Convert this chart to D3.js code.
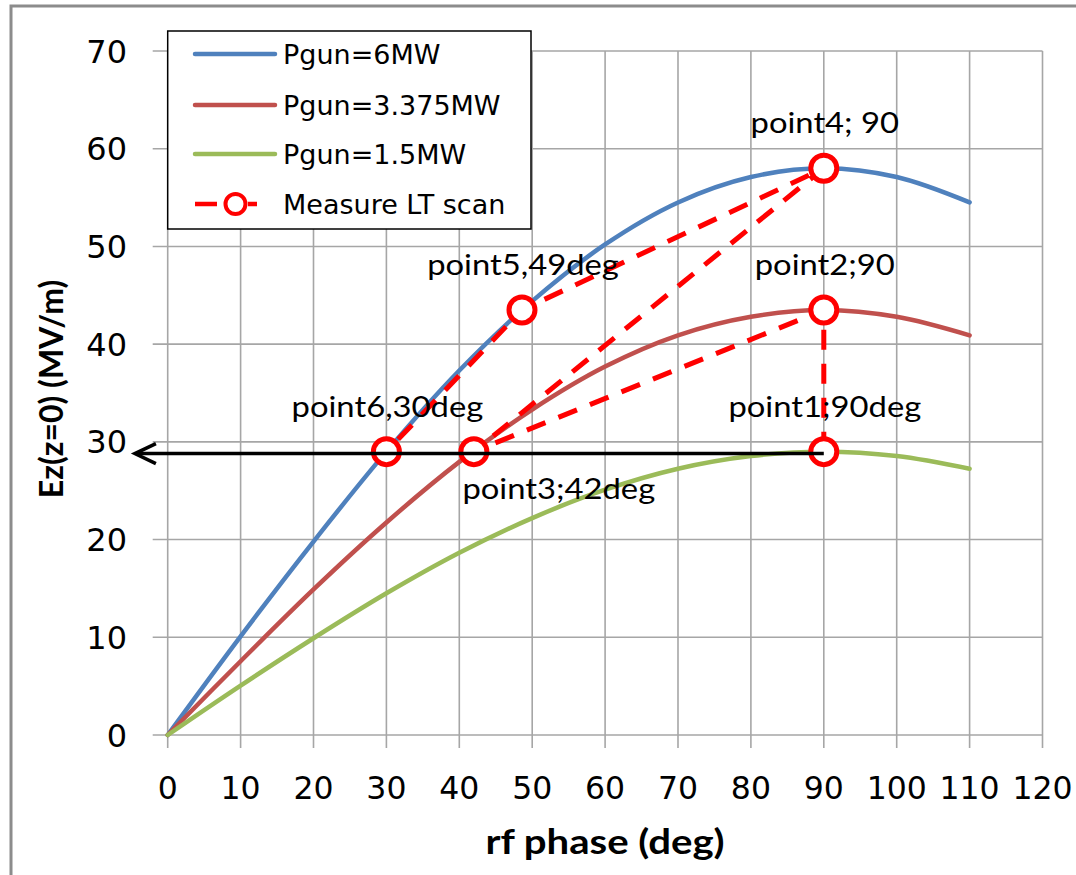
<!DOCTYPE html>
<html><head><meta charset="utf-8">
<script src="https://cdn.jsdelivr.net/npm/d3@7"></script>
<style>body{margin:0;background:#fff}</style>
</head><body><svg id="c" width="1076" height="875"></svg>
<script>
// ---- data ----
const phase   = [0, 10, 20, 30, 40, 50, 60, 70, 80, 90, 100, 110];
const ez6MW   = [0, 10.1, 19.8, 29.0, 37.3, 44.4, 50.2, 54.5, 57.1, 58.0, 57.1, 54.5];
const ez3MW   = [0, 7.55, 14.9, 21.75, 27.95, 33.3, 37.7, 40.9, 42.8, 43.5, 42.8, 40.9];
const ez1MW   = [0, 5.05, 9.9, 14.5, 18.65, 22.2, 25.1, 27.25, 28.55, 29.0, 28.55, 27.25];
const seriesNames = ["Pgun=6MW", "Pgun=3.375MW", "Pgun=1.5MW"];
const scanName = "Measure LT scan";
const scanPhase = [90, 90, 42, 90, 48.6, 30];
const scanEz    = [29, 43.5, 29, 58, 43.5, 29];
const scanLabels = ["point1;90deg", "point2;90", "point3;42deg", "point4; 90", "point5,49deg", "point6,30deg"];
const arrowPhase = [90, -4.5];
const arrowEz    = [28.8, 28.8];
const xTicks = [0, 10, 20, 30, 40, 50, 60, 70, 80, 90, 100, 110, 120];
const yTicks = [0, 10, 20, 30, 40, 50, 60, 70];
const xTitle = "rf phase (deg)";
const yTitle = "Ez(z=0) (MV/m)";

// ---- layout ----
const L = 167.7, R = 1042.5, T = 51, B = 735;
const colors = ["#4F81BD", "#C0504D", "#9BBB59"];
const red = "#FF0000";
const grid = "#A6A6A6";
const svg = d3.select("#c");
const x = d3.scaleLinear().domain([0, 120]).range([L, R]);
const y = d3.scaleLinear().domain([0, 70]).range([B, T]);

// outer frame (left + top)
svg.append("path").attr("d", `M11,875 V6 H1076`).attr("fill", "none")
  .attr("stroke", "#8C8C8C").attr("stroke-width", 3);

// gridlines
svg.append("g").selectAll("line").data(xTicks).join("line")
  .attr("x1", d => x(d)).attr("x2", d => x(d)).attr("y1", T).attr("y2", B + 13)
  .attr("stroke", grid).attr("stroke-width", 1.6);
svg.append("g").selectAll("line").data(yTicks).join("line")
  .attr("x1", L - 15).attr("x2", R).attr("y1", d => y(d)).attr("y2", d => y(d))
  .attr("stroke", grid).attr("stroke-width", 1.6);

// tick labels
svg.append("g").selectAll("text").data(xTicks).join("text")
  .attr("x", d => x(d)).attr("y", 799).attr("text-anchor", "middle")
  .attr("font-family", "DejaVu Sans").attr("font-size", 31.5).attr("fill", "#000")
  .text(d => String(d));
svg.append("g").selectAll("text").data(yTicks).join("text")
  .attr("x", 127).attr("y", d => y(d)).attr("dy", "0.36em").attr("text-anchor", "end")
  .attr("font-family", "DejaVu Sans").attr("font-size", 32).attr("fill", "#000")
  .text(d => String(d));

// axis titles
function stretchText(g, sx) {
  g.attr("transform", (g.attr("transform") || "") + ` scale(${sx},1)`);
}
const xt = svg.append("text").attr("transform", `translate(605,854)`)
  .attr("text-anchor", "middle").attr("font-family", "Lato").attr("font-weight", "bold")
  .attr("font-size", 34).text(xTitle);
stretchText(xt, 1.18);
const yt = svg.append("text").attr("transform", `translate(63,389) rotate(-90)`)
  .attr("text-anchor", "middle").attr("font-family", "Lato").attr("font-weight", "bold")
  .attr("font-size", 32).text(yTitle);
stretchText(yt, 1.0);

// legend
const lg = svg.append("g");
lg.append("rect").attr("x", L).attr("y", 31).attr("width", 531 - L).attr("height", 198)
  .attr("fill", "#fff").attr("stroke", "#000").attr("stroke-width", 1.5);
const rowY = [54, 105, 154, 204];
seriesNames.forEach((n, i) => {
  lg.append("line").attr("x1", 195).attr("x2", 275).attr("y1", rowY[i]).attr("y2", rowY[i])
    .attr("stroke", colors[i]).attr("stroke-width", 4.5).attr("stroke-linecap", "round");
  lg.append("text").attr("x", 283).attr("y", rowY[i]).attr("dy", "0.36em")
    .attr("font-family", "DejaVu Sans").attr("font-size", 27).text(n);
});
lg.append("line").attr("x1", 195).attr("x2", 257).attr("y1", rowY[3]).attr("y2", rowY[3])
  .attr("stroke", red).attr("stroke-width", 4.5).attr("stroke-dasharray", "22,31,9");
lg.append("circle").attr("cx", 235.5).attr("cy", rowY[3]).attr("r", 10)
  .attr("fill", "#fff").attr("stroke", red).attr("stroke-width", 4);
lg.append("text").attr("x", 283).attr("y", rowY[3]).attr("dy", "0.36em")
  .attr("font-family", "DejaVu Sans").attr("font-size", 27).text(scanName);

// curves
const line = d3.line().x(d => x(d[0])).y(d => y(d[1])).curve(d3.curveCatmullRom.alpha(0.5));
[ez6MW, ez3MW, ez1MW].forEach((s, i) => {
  svg.append("path").datum(phase.map((p, k) => [p, s[k]]))
    .attr("d", line).attr("fill", "none").attr("stroke", colors[i])
    .attr("stroke-width", 4.5).attr("stroke-linecap", "round");
});

// measured scan
const scan = scanPhase.map((p, k) => [p, scanEz[k]]);
svg.append("path").datum(scan).attr("d", d3.line().x(d => x(d[0])).y(d => y(d[1])))
  .attr("fill", "none").attr("stroke", red).attr("stroke-width", 5)
  .attr("stroke-dasharray", "20,14");
svg.append("g").selectAll("circle").data(scan).join("circle")
  .attr("cx", d => x(d[0])).attr("cy", d => y(d[1])).attr("r", 13)
  .attr("fill", "#fff").attr("stroke", red).attr("stroke-width", 5);

// labels
scan.forEach((d, i) => {
  const below = i === 2;
  const t = svg.append("text")
    .attr("transform", `translate(${x(d[0]) + (below ? -11.5 : 1)},${y(d[1]) + (below ? 47 : -35)})`)
    .attr("text-anchor", below ? "start" : "middle")
    .attr("font-family", "Lato").attr("font-size", 28).attr("fill", "#000")
    .text(scanLabels[i]);
  stretchText(t, 1.17);
});

// black arrow
const ax = arrowPhase.map(p => x(p)), ay = arrowEz.map(v => y(v));
svg.append("line").attr("x1", ax[0]).attr("y1", ay[0]).attr("x2", ax[1] + 2).attr("y2", ay[1])
  .attr("stroke", "#000").attr("stroke-width", 3.5);
svg.append("path")
  .attr("d", `M${ax[1] + 21},${ay[1] - 10} L${ax[1]},${ay[1]} L${ax[1] + 21},${ay[1] + 10}`)
  .attr("fill", "none").attr("stroke", "#000").attr("stroke-width", 3.5);
</script></body></html>
